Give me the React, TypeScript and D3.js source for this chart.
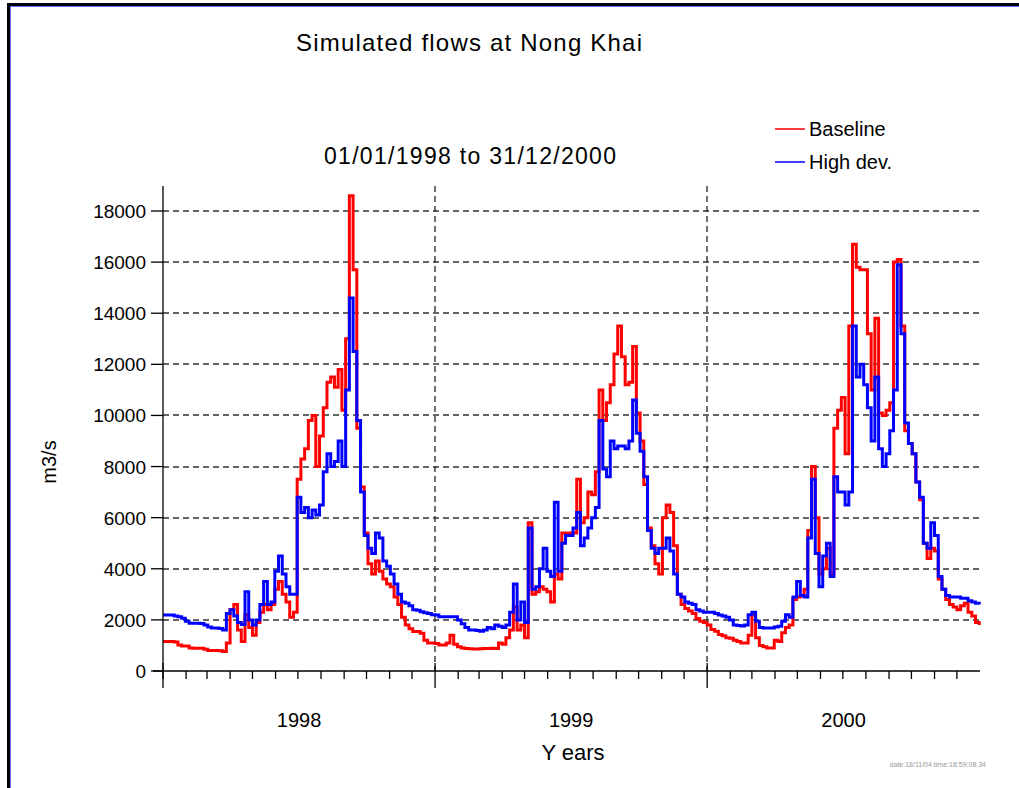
import React, { useEffect, useRef } from "react";
import * as d3 from "d3";

const startDate = "1998-01-01";
const endDate = "2001-01-01";
const sampleStepDays = 5;

const baseline: number[] = [
  1150, 1150, 1150, 1130, 1020, 980, 980, 900, 890, 890, 890, 850, 800, 800, 800, 790, 760, 1100, 2400, 2600,
  1600, 1150, 2200, 1700, 1400, 1900, 2300, 2600, 2400, 2600, 3200, 3500, 3000, 2700, 2100, 2300, 7500, 8300, 8700, 9800,
  10000, 8000, 9200, 10300, 11300, 11500, 11100, 11800, 10200, 13000, 18600, 15700, 9500, 7200, 5400, 4200, 3800, 4300, 3900, 3600,
  3400, 3300, 2900, 2600, 2100, 1800, 1650, 1550, 1550, 1480, 1200, 1100, 1100, 1080,
  1020, 1020, 1100, 1400, 1050, 950, 900, 880, 870, 860, 860, 870, 880, 880, 890, 880, 1100, 1050, 1300, 1600,
  2500, 1600, 1800, 1300, 5800, 3000, 3100, 3300, 3200, 3100, 2700, 3800, 3600, 5400, 5400, 5400, 5400, 7500, 5800, 6000,
  7000, 6900, 7800, 11000, 9800, 10500, 11200, 12400, 13500, 12300, 11200, 11300, 12700, 10100, 9000, 7300, 5600, 4900, 4200, 3800,
  6000, 6500, 6200, 4900, 3000, 2600, 2450, 2350, 2250, 2050, 1950, 1900, 1800,
  1620, 1560, 1430, 1380, 1300, 1280, 1200, 1150, 1100, 1100, 1400, 2200, 1300, 1000, 950, 900, 900, 1200, 1150, 1500,
  1700, 1800, 2800, 2900, 2950, 3200, 5500, 8000, 6000, 3800, 4000, 4800, 3800, 9500, 10200, 10700, 8500, 13500, 16700, 15800,
  15700, 15700, 13200, 11000, 13800, 10100, 10000, 10200, 10500, 16000, 16100, 13500, 9400, 8900, 8500, 7400, 6700, 5000, 4400, 4800,
  4700, 3600, 3200, 2800, 2600, 2500, 2400, 2550, 2650, 2300, 2150, 1900, 1800,
];

const highDev: number[] = [
  2190, 2190, 2190, 2150, 2125, 2060, 1950, 1870, 1870, 1870, 1860, 1800, 1720, 1680, 1680, 1660, 1600, 2250, 2400, 2150,
  1900, 1820, 3100, 2000, 1800, 2000, 2600, 3500, 2600, 2700, 3900, 4500, 3800, 3300, 3000, 3000, 6800, 6200, 6400, 6000,
  6300, 6100, 6500, 7800, 8500, 8000, 8200, 9000, 8000, 11000, 14600, 12500, 9800, 7000, 5300, 4800, 4600, 5400, 5200, 4300,
  4100, 3800, 3400, 3000, 2700, 2650, 2550, 2400, 2380, 2320, 2280, 2250, 2200, 2190,
  2125, 2125, 2125, 2125, 2125, 2000, 1850, 1700, 1600, 1600, 1580, 1560, 1600, 1700, 1650, 1800, 1750, 1700, 1800, 2300,
  3400, 2000, 2700, 1900, 5600, 3200, 3300, 4000, 4800, 3900, 3700, 6600, 3900, 5000, 5300, 5300, 5600, 6200, 4900, 5200,
  5600, 6000, 6400, 9800, 7900, 7600, 9000, 8700, 8800, 8800, 8700, 9000, 10600, 9300, 8600, 7600, 5500, 4800, 4600, 4800,
  4800, 5200, 4700, 3800, 3000, 2900, 2700, 2650, 2600, 2400, 2350, 2300, 2300,
  2300, 2250, 2190, 2150, 2100, 2000, 1800, 1780, 1760, 1800, 2200, 2300, 1950, 1700, 1680, 1680, 1680, 1720, 1750, 1950,
  2200, 2100, 2900, 3500, 2950, 2900, 5200, 7500, 4600, 3300, 4500, 5000, 3700, 7600, 7000, 7000, 6500, 7000, 13500, 11500,
  12000, 11200, 10300, 9000, 11500, 8700, 8000, 8500, 9400, 11000, 15900, 13200, 9700, 8900, 8500, 7400, 6800, 5000, 4800, 5800,
  5300, 3700, 3200, 2950, 2900, 2900, 2900, 2850, 2850, 2750, 2700, 2650, 2600,
];

const yTicks: number[] = [0, 2000, 4000, 6000, 8000, 10000, 12000, 14000, 16000, 18000];
const yearLabels: string[] = ["1998", "1999", "2000"];
const seriesNames: string[] = ["Baseline", "High dev."];
const seriesColors: string[] = ["#ff0000", "#0000ff"];

const W = 1019;
const H = 788;
const M = { left: 163, right: 980, top: 186, bottom: 671 };

export default function App() {
  const ref = useRef<SVGSVGElement | null>(null);

  useEffect(() => {
    document.body.style.margin = "0";
    const svg = d3.select(ref.current!);
    svg.selectAll("*").remove();

    const t0 = new Date(startDate + "T00:00:00Z");
    const t1 = new Date(endDate + "T00:00:00Z");
    const x = d3.scaleUtc().domain([t0, t1]).range([M.left, M.right]);
    const y = d3.scaleLinear().domain([0, 18000]).range([M.bottom, 671 - 460]);

    const font = "'Liberation Sans', Arial, sans-serif";

    svg.append("rect").attr("x", 0).attr("y", 0).attr("width", W).attr("height", H).attr("fill", "#fff");

    // frame
    svg.append("rect").attr("x", 7).attr("y", 3).attr("width", W).attr("height", 3).attr("fill", "#000");
    svg.append("rect").attr("x", 7).attr("y", 3).attr("width", 3).attr("height", H).attr("fill", "#000");
    svg.append("line").attr("x1", 10).attr("x2", W).attr("y1", 6.5).attr("y2", 6.5).attr("stroke", "#7070ff").attr("stroke-width", 1);
    svg.append("line").attr("x1", 10.5).attr("x2", 10.5).attr("y1", 6).attr("y2", H).attr("stroke", "#7070ff").attr("stroke-width", 1);

    // titles
    svg.append("text").attr("x", 469).attr("y", 51).attr("text-anchor", "middle")
      .attr("font-family", font).attr("font-size", 24).attr("textLength", 346).attr("lengthAdjust", "spacing")
      .text("Simulated flows at Nong Khai");
    svg.append("text").attr("x", 470).attr("y", 164).attr("text-anchor", "middle")
      .attr("font-family", font).attr("font-size", 23).attr("textLength", 292).attr("lengthAdjust", "spacing")
      .text("01/01/1998 to 31/12/2000");

    // grid
    const grid = svg.append("g").attr("stroke", "#333").attr("stroke-width", 1.4).attr("stroke-dasharray", "6,4");
    yTicks.filter((v) => v > 0).forEach((v) => {
      grid.append("line").attr("x1", M.left).attr("x2", M.right)
        .attr("y1", Math.round(y(v))).attr("y2", Math.round(y(v)));
    });
    const yearStarts = d3.utcYear.range(t0, t1);
    yearStarts.slice(1).forEach((d) => {
      grid.append("line").attr("x1", Math.round(x(d))).attr("x2", Math.round(x(d)))
        .attr("y1", M.top).attr("y2", M.bottom);
    });

    // lines
    const dates = baseline.map((_, i) => d3.utcDay.offset(t0, i * sampleStepDays));
    const line = d3.line<number>()
      .x((_, i) => x(dates[i]))
      .y((v) => y(v))
      .curve(d3.curveStepAfter);
    [baseline, highDev].forEach((s, i) => {
      svg.append("path").attr("d", line(s)!).attr("fill", "none")
        .attr("stroke", seriesColors[i]).attr("stroke-width", 3).attr("stroke-linejoin", "miter");
    });

    // axes
    const ax = svg.append("g").attr("stroke", "#000").attr("stroke-width", 1.3);
    ax.append("line").attr("x1", M.left).attr("x2", M.left).attr("y1", M.top).attr("y2", M.bottom + 8);
    ax.append("line").attr("x1", 153).attr("x2", M.right).attr("y1", M.bottom).attr("y2", M.bottom);
    yTicks.forEach((v) => {
      ax.append("line").attr("x1", 151).attr("x2", M.left).attr("y1", y(v)).attr("y2", y(v));
      svg.append("text").attr("x", 146).attr("y", y(v) + 7).attr("text-anchor", "end")
        .attr("font-family", font).attr("font-size", 19).text(d3.format("d")(v));
    });
    d3.utcMonth.range(t0, t1).forEach((d) => {
      const isYear = d.getUTCMonth() === 0;
      ax.append("line").attr("x1", x(d)).attr("x2", x(d))
        .attr("y1", isYear ? M.bottom - 8 : M.bottom).attr("y2", isYear ? M.bottom + 17 : M.bottom + 8);
    });
    yearStarts.forEach((d, i) => {
      const mid = new Date((d.getTime() + d3.utcYear.offset(d, 1).getTime()) / 2);
      svg.append("text").attr("x", x(mid)).attr("y", 727).attr("text-anchor", "middle")
        .attr("font-family", font).attr("font-size", 20).text(yearLabels[i]);
    });

    svg.append("text").attr("x", 573).attr("y", 760).attr("text-anchor", "middle")
      .attr("font-family", font).attr("font-size", 22).text("Y ears");
    svg.append("text").attr("transform", "translate(56,462) rotate(-90)").attr("text-anchor", "middle")
      .attr("font-family", font).attr("font-size", 20).text("m3/s");

    // legend
    seriesNames.forEach((n, i) => {
      const ly = 129 + i * 33;
      svg.append("line").attr("x1", 775).attr("x2", 805).attr("y1", ly).attr("y2", ly)
        .attr("stroke", seriesColors[i]).attr("stroke-width", 1.5);
      svg.append("text").attr("x", 809).attr("y", ly + 7).attr("font-family", font).attr("font-size", 20).text(n);
    });

    // stamp
    svg.append("text").attr("x", 986).attr("y", 767).attr("text-anchor", "end")
      .attr("font-family", font).attr("font-size", 7).attr("fill", "#999").text("date:18/11/04 time:18:59:08.34");
  }, []);

  return (
    <svg ref={ref} width={W} height={H} style={{ display: "block", position: "absolute", left: 0, top: 0 }} />
  );
}
